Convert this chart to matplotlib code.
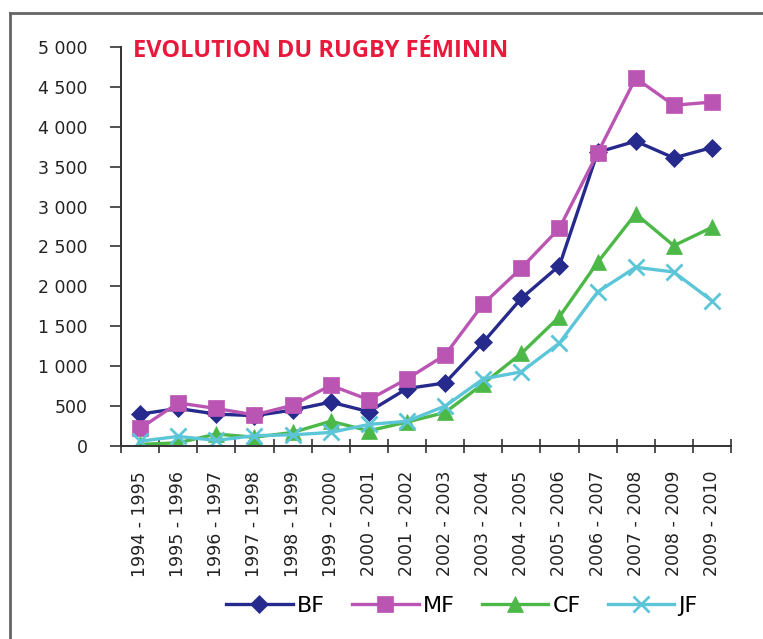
import numpy as np
import matplotlib.pyplot as plt
from matplotlib.lines import Line2D
from matplotlib.ticker import FuncFormatter, FixedLocator

seasons = ['%d - %d' % (y, y + 1) for y in range(1994, 2010)]
bf = [400, 470, 400, 380, 450, 550, 430, 720, 790, 1300, 1850, 2260, 3680, 3820, 3610, 3740]
mf = [220, 540, 470, 390, 510, 760, 580, 840, 1140, 1780, 2230, 2730, 3670, 4610, 4270, 4310]
cf = [20, 40, 150, 110, 170, 310, 190, 300, 420, 780, 1160, 1620, 2300, 2910, 2510, 2740]
jf = [60, 120, 70, 130, 140, 170, 270, 310, 500, 840, 930, 1290, 1930, 2240, 2180, 1820]

names = ['BF', 'MF', 'CF', 'JF']
colors = ['#262a8c', '#bb55b3', '#4cb847', '#5cc6d8']
markers = ['D', 's', '^', 'x']
msizes = [9, 12, 11, 11]

fig = plt.figure(figsize=(7.63, 6.39), dpi=100)
ax = fig.add_axes([121/763, 1 - 446/639, 610/763, 399/639])

x = np.arange(len(seasons))
for vals, name, c, m, ms in zip([bf, mf, cf, jf], names, colors, markers, msizes):
    ax.plot(x, vals, color=c, marker=m, markersize=ms, lw=2.4, label=name,
            markeredgewidth=2 if m == 'x' else 0.5, markeredgecolor=c)

ax.set_xlim(-0.5, len(seasons) - 0.5)
ax.set_ylim(0, 5000)
ax.set_yticks(np.arange(0, 5001, 500))
ax.yaxis.set_major_formatter(FuncFormatter(lambda v, p: ('{:,.0f}'.format(v)).replace(',', ' ')))

# category boundaries get the tick marks, labels sit on the points
ax.xaxis.set_major_locator(FixedLocator(np.arange(-0.5, len(seasons), 1.0)))
ax.xaxis.set_major_formatter(FuncFormatter(lambda v, p: ''))
ax.xaxis.set_minor_locator(FixedLocator(x))
ax.set_xticklabels(seasons, minor=True, rotation=90, fontsize=12.5, color='#222222')
ax.tick_params(axis='x', which='major', direction='inout', length=10, width=1.2, color='#333333')
ax.tick_params(axis='x', which='minor', length=0, pad=18)
ax.tick_params(axis='y', direction='out', length=8, width=1.2, color='#333333',
               labelsize=12.5, labelcolor='#222222', pad=16)

for s in ['top', 'right']:
    ax.spines[s].set_visible(False)
for s in ['left', 'bottom']:
    ax.spines[s].set_linewidth(1.4)
    ax.spines[s].set_color('#333333')

fig.text(133/763, 1 - 57/639, 'EVOLUTION DU RUGBY FÉMININ', color='#e8193c',
         fontsize=17, fontfamily='Open Sans', fontweight='bold', va='baseline')

fig.legend(loc='center', bbox_to_anchor=(462/763, 1 - 606/639), ncol=4, frameon=False,
           fontsize=16, handlelength=3.0, columnspacing=1.2, handletextpad=0.2)

# outer frame (top and left edges)
fig.add_artist(Line2D([10/763, 1], [1 - 13/639] * 2, color='#666666', lw=2))
fig.add_artist(Line2D([10/763] * 2, [0, 1 - 13/639], color='#666666', lw=2))

fig.savefig('out.png', dpi=100)
